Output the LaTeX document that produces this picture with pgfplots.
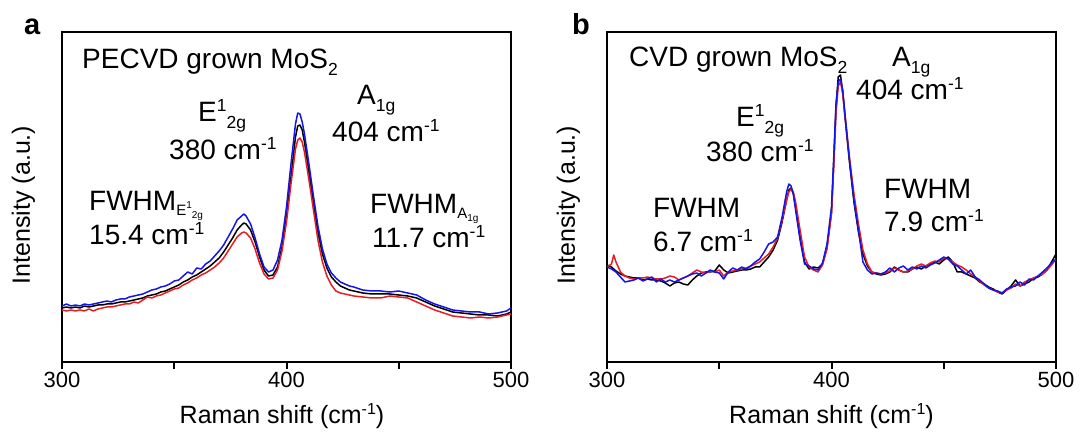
\documentclass[border=0pt]{standalone}
\usepackage{fontspec}
\setmainfont{Liberation Sans}
\usepackage{pgfplots}
\pgfplotsset{compat=1.18}
\newcommand{\Sup}[1]{\raisebox{0.36em}{\fontsize{17.5}{17.5}\selectfont #1}}
\newcommand{\Sub}[1]{\raisebox{-0.25em}{\fontsize{17.5}{17.5}\selectfont #1}}
\newcommand{\LSup}[1]{\raisebox{0.36em}{\fontsize{16}{16}\selectfont #1}}
\newcommand{\FWE}{FWHM\raisebox{-0.15em}{\fontsize{15}{15}\selectfont E\raisebox{0.42em}{\fontsize{10}{10}\selectfont 1}\raisebox{-0.2em}{\fontsize{10}{10}\selectfont 2g}}}
\newcommand{\FWA}{FWHM\raisebox{-0.15em}{\fontsize{15}{15}\selectfont A\raisebox{-0.2em}{\fontsize{10}{10}\selectfont 1g}}}
\definecolor{cblue}{RGB}{20,20,235}
\definecolor{cred}{RGB}{230,30,35}
\pgfplotsset{
  panel/.style={
    scale only axis, width=449pt, height=330pt,
    xmin=300, xmax=500, ymin=0, ymax=330,
    xtick={300,350,400,450,500}, xticklabels={300,,400,,500},
    ytick=\empty, xtick pos=bottom, tick align=outside,
    major tick length=7pt,
    axis line style={line width=2pt},
    every tick/.style={line width=2pt, black},
    tick label style={font=\fontsize{22}{26}\selectfont},
    /pgf/number format/assume math mode=true,
    label style={font=\fontsize{25}{30}\selectfont},
    xlabel={Raman shift (cm\LSup{-1})},
    ylabel={Intensity (a.u.)},
    xlabel style={at={(axis description cs:0.49,-0.165)}, anchor=center},
    ylabel style={at={(axis description cs:-0.086,0.476)}, anchor=center},
    every axis plot/.append style={line width=1.5pt, line join=round},
  }
}
\begin{document}
\begin{tikzpicture}[x=1pt,y=1pt]
\useasboundingbox (0,0) rectangle (1080,434);
% ---------------- panel a ----------------
\begin{axis}[panel, at={(62pt,72pt)}, anchor=south west]
\addplot[black] coordinates {
(300,54)(302,55)(304,54)(306,55)(308,54)(310,56)(312,55)(314,56)(316,57)(318,57)
(320,58)(322,58)(324,59)(326,60)(328,60)(330,61)(332,62)(334,63)(336,64)(338,66)
(340,67)(342,68)(344,70)(346,71)(348,73)(350,75)(352,77)(354,80)(356,82)(358,85)
(360,87)(362,90)(364,93)(366,96)(368,100)(370,104)(372,110)(374,117)(376,124)(378,132)
(380,137)(381,139)(382,138)(384,132)(386,120)(388,105)(390,92)(392,86)(394,87)(396,95)
(398,115)(400,145)(402,185)(404,225)(405,236)(406,237)(407,232)(408,220)(410,190)(412,160)
(414,130)(416,108)(418,94)(420,85)(422,80)(424,76)(426,74)(428,72)(430,71)(434,69)
(438,68)(442,68)(446,68)(450,67)(454,66)(458,64)(462,60)(466,56)(470,53)(474,50)
(478,49)(482,48)(486,47)(490,47)(494,46)(498,48)(500,50)};
\addplot[cred] coordinates {
(300,52)(302,51)(304,52)(306,51)(308,52)(310,51)(312,53)(314,51)(316,53)(318,54)
(320,55)(322,55)(324,56)(326,57)(328,58)(330,58)(332,60)(334,59)(336,62)(338,65)
(340,64)(342,66)(344,67)(346,69)(348,71)(350,73)(352,74)(354,77)(356,79)(358,82)
(360,84)(362,87)(364,89)(366,92)(368,95)(370,99)(372,104)(374,111)(376,118)(378,125)
(380,129)(381,130)(382,129)(384,124)(386,113)(388,99)(390,88)(392,83)(394,84)(396,92)
(398,111)(400,140)(402,178)(404,213)(405,222)(406,224)(407,220)(408,210)(410,182)(412,152)
(414,122)(416,100)(418,86)(420,77)(422,71)(424,69)(426,68)(428,67)(430,66)(434,65)
(438,64)(442,64)(446,66)(450,65)(454,64)(458,60)(462,56)(466,52)(470,49)(474,46)
(478,45)(482,44)(486,45)(490,44)(494,45)(498,47)(500,48)};
\addplot[cblue] coordinates {
(300,56)(302,58)(304,56)(306,57)(308,56)(310,58)(312,57)(314,58)(316,59)(318,60)
(320,61)(322,60)(324,62)(326,63)(328,63)(330,65)(332,66)(334,67)(336,68)(338,70)
(340,72)(342,73)(344,75)(346,76)(348,78)(350,81)(352,82)(354,86)(356,90)(358,88)
(360,94)(362,93)(364,98)(366,101)(368,106)(370,111)(372,117)(374,125)(376,133)(378,142)
(380,146)(381,148)(382,146)(384,138)(386,124)(388,108)(390,95)(392,90)(394,92)(396,102)
(398,122)(400,155)(402,198)(404,238)(405,249)(406,248)(407,240)(408,228)(410,198)(412,166)
(414,136)(416,113)(418,98)(420,89)(422,84)(424,80)(426,78)(428,76)(430,75)(434,72)
(438,71)(442,71)(446,70)(450,71)(454,69)(458,67)(462,62)(466,58)(470,55)(474,52)
(478,51)(482,50)(486,50)(490,48)(494,49)(498,51)(500,54)};
\end{axis}
% ---------------- panel b ----------------
\begin{axis}[panel, at={(607pt,72pt)}, anchor=south west,
  xlabel style={at={(axis description cs:0.5,-0.165)}}]
\addplot[black] coordinates {
(300,97)(302,95)(304,91)(306,88)(308,86)(310,85)(312,84)(314,84)(316,82)(318,83)
(320,82)(322,82)(324,81)(326,79)(328,76)(330,79)(332,80)(334,78)(336,77)(338,82)
(340,86)(342,89)(344,90)(346,90)(348,91)(350,97)(352,92)(354,89)(356,90)(358,91)
(360,92)(362,92)(364,93)(366,95)(368,95)(370,100)(372,105)(374,112)(376,122)(378,140)
(380,162)(381,172)(382,174)(383,168)(384,155)(386,125)(388,100)(390,93)(392,95)(394,94)
(396,98)(398,115)(400,150)(401,200)(402,255)(403,285)(404,287)(405,270)(406,245)(408,200)
(410,160)(412,130)(414,108)(416,96)(418,90)(420,88)(422,87)(424,88)(426,90)(428,95)
(430,92)(432,90)(434,90)(436,93)(438,95)(440,93)(442,96)(444,98)(446,100)(448,98)
(450,102)(452,105)(454,100)(456,90)(458,90)(460,88)(462,86)(464,84)(466,80)(468,78)
(470,75)(472,73)(474,70)(476,68)(478,72)(480,76)(482,82)(484,76)(486,78)(488,80)
(490,84)(492,85)(494,88)(496,92)(498,100)(500,108)};
\addplot[cred] coordinates {
(300,95)(302,98)(303,107)(304,100)(306,90)(308,86)(310,84)(312,83)(314,84)(316,84)
(318,85)(320,84)(322,83)(324,83)(326,84)(328,86)(330,85)(332,82)(334,84)(336,86)
(338,89)(340,92)(342,90)(344,89)(346,91)(348,90)(350,92)(352,86)(354,90)(356,91)
(358,92)(360,93)(362,94)(364,96)(366,98)(368,100)(370,104)(372,108)(374,115)(376,124)
(378,142)(380,162)(381,170)(382,173)(383,170)(384,160)(386,132)(388,105)(390,95)(392,92)
(394,90)(396,97)(398,113)(400,148)(401,195)(402,248)(403,276)(404,280)(405,268)(406,247)
(408,205)(410,168)(412,138)(414,112)(416,98)(418,90)(420,89)(422,88)(424,89)(426,91)
(428,94)(430,92)(432,90)(434,91)(436,93)(438,96)(440,98)(442,96)(444,99)(446,101)
(448,100)(450,104)(452,103)(454,100)(456,97)(458,95)(460,92)(462,88)(464,85)(466,81)
(468,77)(470,74)(472,72)(474,70)(476,69)(478,72)(480,74)(482,78)(484,76)(486,80)
(488,82)(490,84)(492,86)(494,88)(496,92)(498,97)(500,103)};
\addplot[cblue] coordinates {
(300,95)(302,93)(304,90)(306,85)(308,80)(310,81)(312,82)(314,84)(316,81)(318,83)
(320,85)(322,80)(324,83)(326,80)(328,82)(330,80)(332,82)(334,84)(336,86)(338,88)
(340,89)(342,86)(344,89)(346,92)(348,90)(350,89)(352,83)(354,90)(356,94)(358,92)
(360,95)(362,93)(364,96)(366,100)(368,103)(370,110)(372,118)(374,120)(376,125)(378,145)
(380,170)(381,178)(382,176)(383,168)(384,152)(386,122)(388,98)(390,96)(392,93)(394,92)
(396,99)(398,118)(400,155)(401,205)(402,258)(403,280)(404,283)(405,272)(406,248)(408,202)
(410,162)(412,132)(414,100)(416,92)(418,88)(420,89)(422,88)(424,90)(426,94)(428,90)
(430,94)(432,96)(434,92)(436,95)(438,93)(440,96)(442,94)(444,97)(446,99)(448,102)
(450,105)(452,103)(454,98)(456,96)(458,92)(460,88)(462,92)(464,85)(466,82)(468,78)
(470,74)(472,72)(474,71)(476,69)(478,73)(480,75)(482,76)(484,80)(486,77)(488,83)
(490,82)(492,86)(494,90)(496,94)(498,99)(500,103)};
\end{axis}
% ---------------- annotations ----------------
\begin{scope}[every node/.style={anchor=base west, inner sep=0pt, font=\fontsize{28}{32}\selectfont}]
\node[font=\fontsize{29}{32}\selectfont\bfseries] at (24,399) {a};
\node[font=\fontsize{29}{32}\selectfont\bfseries] at (572,399) {b};
\node at (82,365) {PECVD grown MoS\Sub{2}};
\node at (198,312) {E\Sup{1}\Sub{2g}};
\node at (169,274) {380 cm\Sup{-1}};
\node at (357,329) {A\Sub{1g}};
\node at (332,292) {404 cm\Sup{-1}};
\node at (89,223) {\FWE};
\node at (89,189) {15.4 cm\Sup{-1}};
\node at (370,220) {\FWA};
\node at (372,186) {11.7 cm\Sup{-1}};
\node at (629,367) {CVD grown MoS\Sub{2}};
\node at (892,367) {A\Sub{1g}};
\node at (856,334) {404 cm\Sup{-1}};
\node at (736,307) {E\Sup{1}\Sub{2g}};
\node at (706,272) {380 cm\Sup{-1}};
\node at (653,216) {FWHM};
\node at (653,182) {6.7 cm\Sup{-1}};
\node at (884,235) {FWHM};
\node at (884,202) {7.9 cm\Sup{-1}};
\end{scope}
\end{tikzpicture}
\end{document}
